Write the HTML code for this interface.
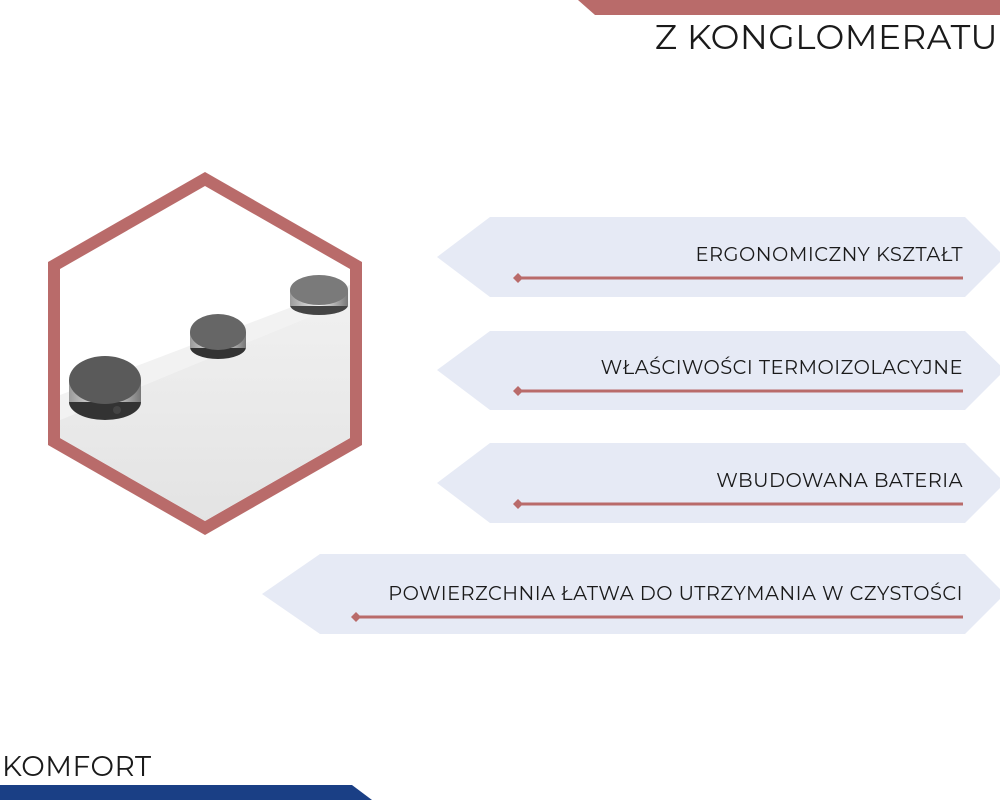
<!DOCTYPE html>
<html><head><meta charset="utf-8"><style>
body{margin:0;width:1000px;height:800px;background:#fff;overflow:hidden;position:relative;font-family:"Montserrat","Liberation Sans",sans-serif}
.t{position:absolute;color:#1a1a1a;letter-spacing:0.5px}
</style></head><body>
<svg width="1000" height="800" style="position:absolute;left:0;top:0">
<defs>
<clipPath id="c"><polygon points="205,186 350,269 350,438 205,521 60,438 60,269"/></clipPath>
<linearGradient id="sl" x1="0" y1="0" x2="0" y2="1"><stop offset="0" stop-color="#f0f0f0"/><stop offset="1" stop-color="#e2e2e2"/></linearGradient>
<linearGradient id="ch" x1="0" y1="0" x2="1" y2="0"><stop offset="0" stop-color="#9a9a9a"/><stop offset=".5" stop-color="#f4f4f4"/><stop offset="1" stop-color="#777"/></linearGradient>
</defs>
<polygon points="578,0 1000,0 1000,15 595,15" fill="#b96b6a"/>
<polygon points="0,785 352,785 372,800 0,800" fill="#1a3f85"/>
<polygon points="205,172 362,262 362,445 205,535 48,445 48,262" fill="#b96b6a"/>
<g clip-path="url(#c)">
<rect x="40" y="180" width="330" height="360" fill="#fff"/>
<polygon points="60,395 350,285 350,300 60,420" fill="#f2f2f2"/>
<polygon points="60,420 350,300 350,540 60,540" fill="url(#sl)"/>
<g>
<ellipse cx="105" cy="402" rx="36" ry="18" fill="#333"/>
<rect x="69" y="380" width="72" height="22" fill="url(#ch)"/>
<ellipse cx="105" cy="380" rx="36" ry="24" fill="#5a5a5a"/>
<circle cx="117" cy="410" r="4" fill="#444"/>
<ellipse cx="218" cy="347" rx="28" ry="12" fill="#333"/>
<rect x="190" y="332" width="56" height="16" fill="url(#ch)"/>
<ellipse cx="218" cy="332" rx="28" ry="18" fill="#666"/>
<ellipse cx="319" cy="305" rx="29" ry="10" fill="#444"/>
<rect x="290" y="290" width="58" height="16" fill="url(#ch)"/>
<ellipse cx="319" cy="290" rx="29" ry="15" fill="#7a7a7a"/>
</g>
</g>
<g fill="#e6eaf5">
<polygon points="437,257 490,217 965,217 1005,257 965,297 490,297"/>
<polygon points="437,370 490,331 965,331 1005,370 965,410 490,410"/>
<polygon points="437,483 490,443 965,443 1005,483 965,523 490,523"/>
<polygon points="262,594 320,554 965,554 1005,594 965,634 320,634"/>
</g>
<g stroke="#b96b6a" stroke-width="3">
<line x1="518" y1="278" x2="963" y2="278"/>
<line x1="518" y1="391" x2="963" y2="391"/>
<line x1="518" y1="504" x2="963" y2="504"/>
<line x1="356" y1="617" x2="963" y2="617"/>
</g>
<g fill="#b96b6a">
<polygon points="518,273 523,278 518,283 513,278"/>
<polygon points="518,386 523,391 518,396 513,391"/>
<polygon points="518,499 523,504 518,509 513,504"/>
<polygon points="356,612 361,617 356,622 351,617"/>
</g>
</svg>
<div class="t" style="right:2px;top:16px;font-size:34.3px">Z KONGLOMERATU</div>
<div class="t" style="left:2px;top:750px;font-size:28px">KOMFORT</div>
<div class="t" style="right:37px;top:242px;font-size:19.4px">ERGONOMICZNY KSZTAŁT</div>
<div class="t" style="right:37px;top:355px;font-size:19.4px">WŁAŚCIWOŚCI TERMOIZOLACYJNE</div>
<div class="t" style="right:37px;top:468px;font-size:19.4px">WBUDOWANA BATERIA</div>
<div class="t" style="right:37px;top:581px;font-size:19.4px">POWIERZCHNIA ŁATWA DO UTRZYMANIA W CZYSTOŚCI</div>
</body></html>
